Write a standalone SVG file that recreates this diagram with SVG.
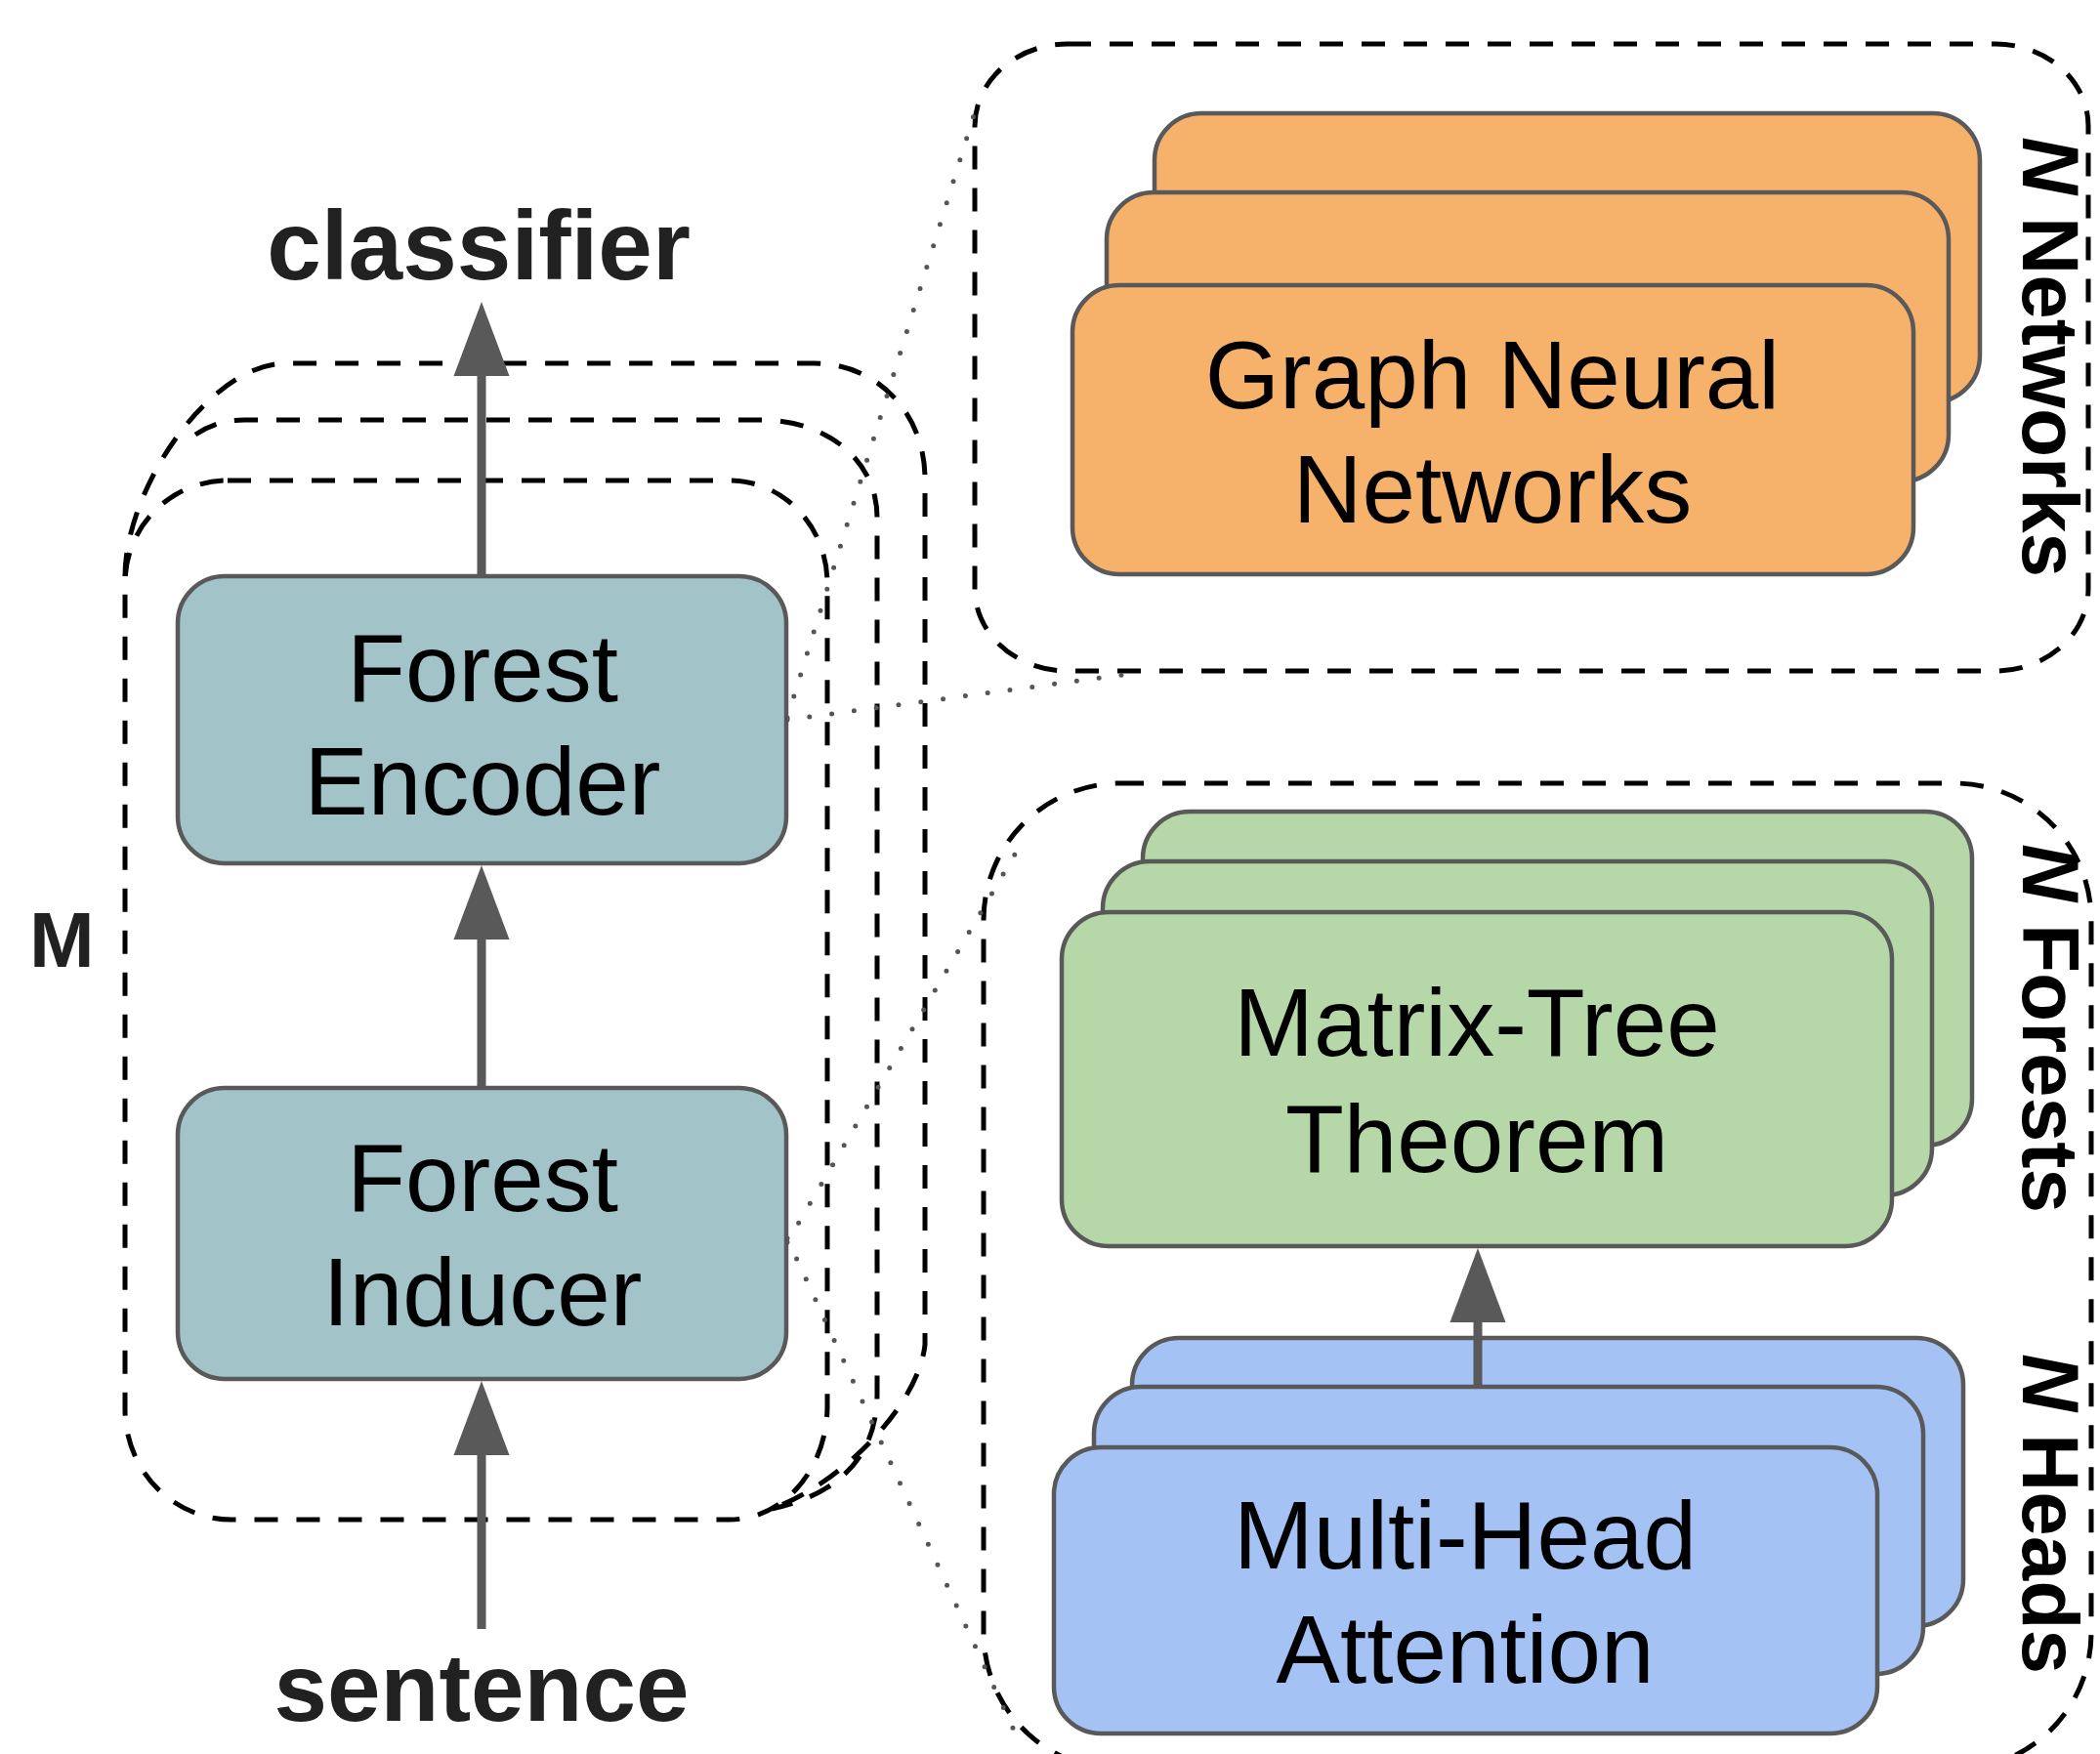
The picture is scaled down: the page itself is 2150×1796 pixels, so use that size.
<svg xmlns="http://www.w3.org/2000/svg" width="2150" height="1796" viewBox="0 0 2150 1796">
<defs>
<style>
.dash{fill:none;stroke:#000;stroke-width:5;stroke-dasharray:24 19}
.dot{fill:none;stroke:#555;stroke-width:5;stroke-linecap:round;stroke-dasharray:0 23}
.card{stroke:#595959;stroke-width:4.5}
.or{fill:#F6B26B}
.gr{fill:#B6D7A8}
.bl{fill:#A4C2F4}
.te{fill:#A2C4C9}
.lbl{font-family:"Liberation Sans",Arial,sans-serif;font-size:98px;fill:#000;text-anchor:middle}
.big{font-family:"Liberation Sans",Arial,sans-serif;font-weight:bold;fill:#212121}
.vert{font-family:"Liberation Sans",Arial,sans-serif;font-weight:bold;font-size:82px;fill:#000}
.shaft{stroke:#595959;stroke-width:9;fill:none}
</style>
<marker id="ah" markerUnits="userSpaceOnUse" markerWidth="76" markerHeight="57" refX="0" refY="28.5" orient="auto" overflow="visible">
<path d="M0,0 L76,28.5 L0,57 Z" fill="#595959"/>
</marker>
</defs>
<rect width="2150" height="1796" fill="#fff"/>

<g id="frames">
<path class="dash" d="M128,590 C128,500 215,372 293,372 H833 C900,372 947,425 947,490 V1377 C940,1440 860,1520 790,1545"/>
<path class="dash" d="M200,445 C215,435 230,430 250,430 H780 C845,430 898,470 898,530 V1427 C898,1490 860,1530 790,1545"/>
<path class="dash" d="M233,492 H747 A100,105 0 0 1 847,597 V1440 A100,116 0 0 1 747,1556 H237 A109,113 0 0 1 128,1443 V597 A105,105 0 0 1 233,492 Z"/>
<rect class="dash" x="998" y="45" width="1140" height="642" rx="95" ry="84"/>
<rect class="dash" x="1007" y="802" width="1134" height="1010" rx="140" ry="140"/>
</g>

<g id="label-M"><text class="big" x="30" y="990" font-size="80">M</text></g>
<g id="label-classifier"><text class="big" x="490" y="286" font-size="100" text-anchor="middle">classifier</text></g>
<g id="label-sentence"><text class="big" x="493" y="1762" font-size="98" text-anchor="middle">sentence</text></g>

<g id="forest-encoder">
<rect class="card te" x="182" y="590" width="623" height="294" rx="48"/>
<text class="lbl" x="494" y="718">Forest</text>
<text class="lbl" x="494" y="834">Encoder</text>
</g>

<g id="forest-inducer">
<rect class="card te" x="182" y="1114" width="623" height="298" rx="48"/>
<text class="lbl" x="494" y="1240">Forest</text>
<text class="lbl" x="494" y="1357">Inducer</text>
</g>

<g id="gnn">
<rect class="card or" x="1182" y="116" width="845" height="296" rx="48"/>
<rect class="card or" x="1133" y="197" width="862" height="296" rx="48"/>
<rect class="card or" x="1098" y="292" width="861" height="296" rx="48"/>
<text class="lbl" x="1528" y="418">Graph Neural</text>
<text class="lbl" x="1528" y="535">Networks</text>
</g>

<g id="matrix-tree">
<rect class="card gr" x="1170" y="831" width="849" height="342" rx="48"/>
<rect class="card gr" x="1129" y="882" width="849" height="342" rx="48"/>
<rect class="card gr" x="1087" y="934" width="850" height="342" rx="48"/>
<text class="lbl" x="1512" y="1081">Matrix-Tree</text>
<text class="lbl" x="1512" y="1200">Theorem</text>
</g>

<g id="multi-head">
<rect class="card bl" x="1159" y="1370" width="851" height="295" rx="48"/>
<rect class="card bl" x="1120" y="1420" width="849" height="294" rx="48"/>
<rect class="card bl" x="1079" y="1482" width="843" height="293" rx="48"/>
<text class="lbl" x="1500" y="1606">Multi-Head</text>
<text class="lbl" x="1500" y="1723">Attention</text>
</g>

<g id="label-networks"><text class="vert" transform="translate(2071,140) rotate(90)"><tspan font-style="italic">N</tspan> Networks</text></g>
<g id="label-forests"><text class="vert" transform="translate(2071,864) rotate(90)"><tspan font-style="italic">N</tspan> Forests</text></g>
<g id="label-heads"><text class="vert" transform="translate(2071,1386) rotate(90)"><tspan font-style="italic">N</tspan> Heads</text></g>

<g id="connectors">
<line class="shaft" x1="493" y1="590" x2="493" y2="385" marker-end="url(#ah)"/>
<line class="shaft" x1="493" y1="1114" x2="493" y2="962" marker-end="url(#ah)"/>
<line class="shaft" x1="493" y1="1668" x2="493" y2="1490" marker-end="url(#ah)"/>
<line class="shaft" x1="1513" y1="1420" x2="1513" y2="1354" marker-end="url(#ah)"/>
<line class="dot" x1="806" y1="735" x2="997" y2="118"/>
<line class="dot" x1="806" y1="737" x2="1157" y2="690"/>
<line class="dot" x1="806" y1="1272" x2="1043" y2="868"/>
<line class="dot" x1="806" y1="1268" x2="1040" y2="1776"/>
</g>
</svg>
